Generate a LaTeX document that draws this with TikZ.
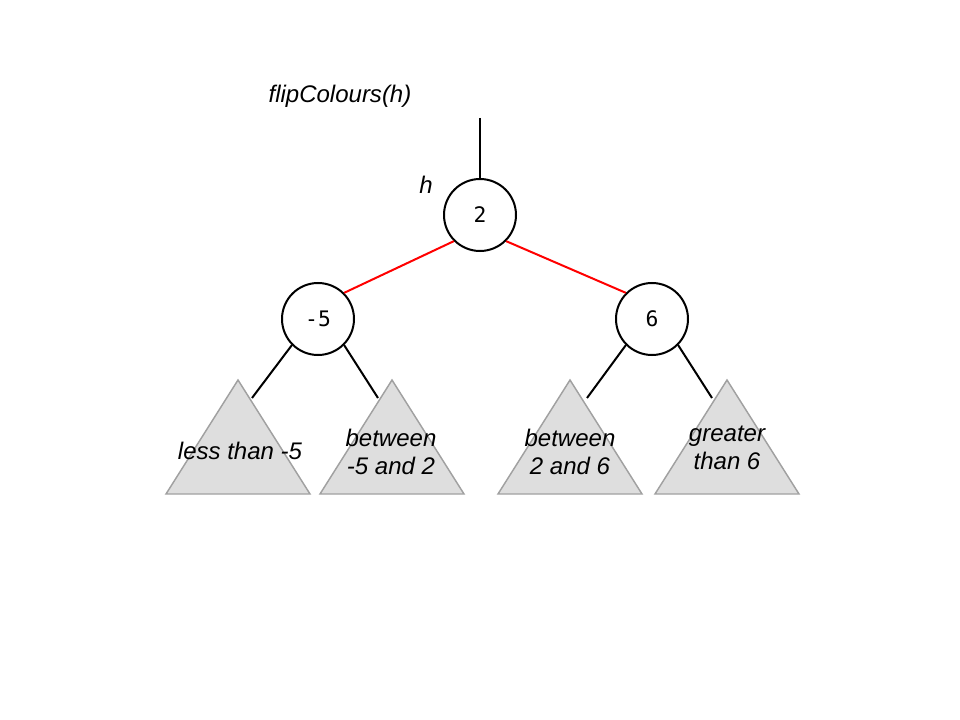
\documentclass[tikz,border=0pt]{standalone}
\usepackage{fontspec}
\setmainfont{Liberation Sans}
\newfontfamily\numfont{DejaVu Sans Mono}
\begin{document}
\begin{tikzpicture}[x=0.75pt,y=-0.75pt,
  treenode/.style={circle,draw=black,line width=1.5pt,minimum size=54pt,inner sep=0pt,font=\numfont\fontsize{16}{18}\selectfont},
  subtree/.style={fill=black!13,draw=black!37,line width=1.1pt,line join=miter},
  lbl/.style={font=\itshape\fontsize{18}{21}\selectfont,align=center,inner sep=0pt},
  edge/.style={line width=1.5pt,black},
  redge/.style={line width=1.5pt,red}]
\useasboundingbox (0,0) rectangle (960,720);
% subtrees
\draw[subtree] (238,380) -- (310,494) -- (166,494) -- cycle;
\draw[subtree] (392,380) -- (464,494) -- (320,494) -- cycle;
\draw[subtree] (570,380) -- (642,494) -- (498,494) -- cycle;
\draw[subtree] (727,380) -- (799,494) -- (655,494) -- cycle;
% nodes
\node[treenode] (r) at (480,215) {2};
\node[treenode] (a) at (318,319) {-5};
\node[treenode] (b) at (652,319) {6};
\coordinate (top) at (480,118);
\coordinate (t1) at (252,398);
\coordinate (t2) at (378,398);
\coordinate (t3) at (587,398);
\coordinate (t4) at (712,398);
\draw[edge] (top) -- (r);
\draw[redge] (r.south west) -- (a.north east);
\draw[redge] (r.south east) -- (b.north west);
\draw[edge] (a.south west) -- (t1);
\draw[edge] (a.south east) -- (t2);
\draw[edge] (b.south west) -- (t3);
\draw[edge] (b.south east) -- (t4);
% labels
\node[lbl] (title) at (340,96) {flipColours(h)};
\node[lbl] (hl) at (426,185) {h};
\node[lbl] (l1) at (240,451) {less than -5};
\node[lbl] (l2) at (391,452) {between\\-5 and 2};
\node[lbl] (l3) at (570,452) {between\\2 and 6};
\node[lbl] (l4) at (727,448) {greater\\than 6};
\end{tikzpicture}
\end{document}
